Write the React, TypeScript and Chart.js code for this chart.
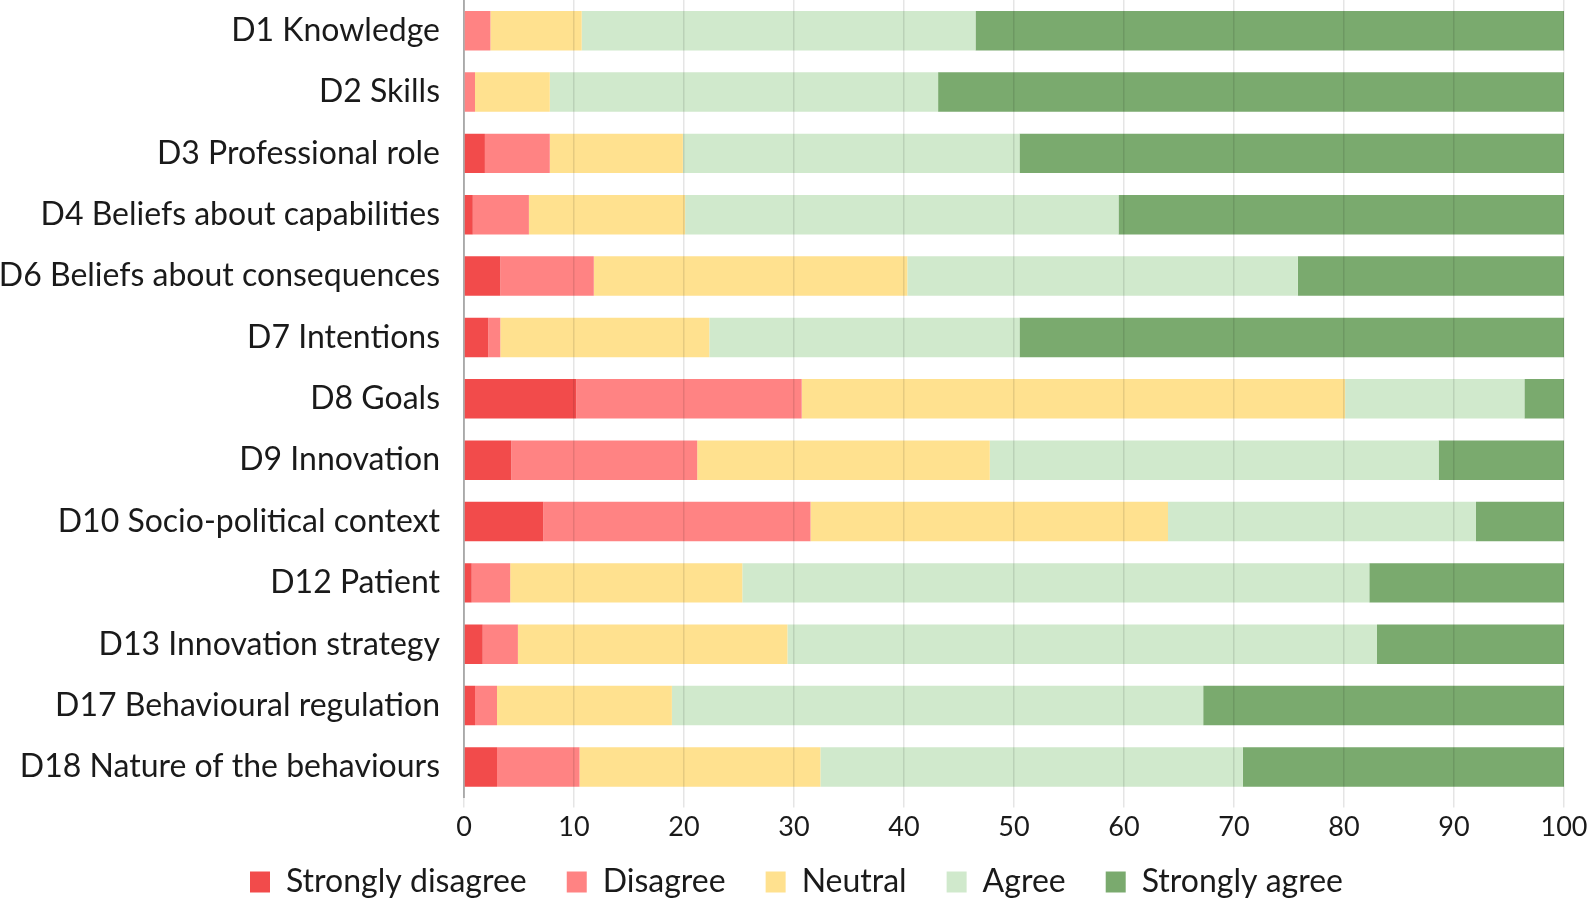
import React, { useEffect, useRef } from "react";
import { Chart, registerables } from "chart.js";

Chart.register(...registerables);

const categories = [
  "D1 Knowledge",
  "D2 Skills",
  "D3 Professional role",
  "D4 Beliefs about capabilities",
  "D6 Beliefs about consequences",
  "D7 Intentions",
  "D8 Goals",
  "D9 Innovation",
  "D10 Socio-political context",
  "D12 Patient",
  "D13 Innovation strategy",
  "D17 Behavioural regulation",
  "D18 Nature of the behaviours",
];

const stronglyDisagree = [0, 0, 1.9, 0.8, 3.3, 2.2, 10.2, 4.3, 7.2, 0.7, 1.7, 1.0, 3.0];
const disagree = [2.4, 1.0, 5.9, 5.1, 8.5, 1.1, 20.5, 16.9, 24.3, 3.5, 3.2, 2.0, 7.5];
const neutral = [8.3, 6.8, 12.1, 14.2, 28.5, 19.0, 49.4, 26.6, 32.5, 21.1, 24.5, 15.9, 21.9];
const agree = [35.8, 35.3, 30.6, 39.4, 35.5, 28.2, 16.3, 40.8, 28.0, 57.0, 53.6, 48.3, 38.4];
const stronglyAgree = [53.5, 56.9, 49.5, 40.5, 24.2, 49.5, 3.6, 11.4, 8.0, 17.7, 17.0, 32.8, 29.2];

const seriesNames = ["Strongly disagree", "Disagree", "Neutral", "Agree", "Strongly agree"];
const seriesColors = ["#F24B4B", "#FF8383", "#FFE18F", "#D0E9CC", "#7AAA6E"];
const xTicks = [0, 10, 20, 30, 40, 50, 60, 70, 80, 90, 100];

const LEGEND_SHIFT = 20;

export default function App() {
  const ref = useRef<HTMLCanvasElement | null>(null);

  useEffect(() => {
    if (!ref.current) return;
    const values = [stronglyDisagree, disagree, neutral, agree, stronglyAgree];
    const family = "Lato, 'Open Sans', sans-serif";
    const labelFont = { family, size: 32 };
    const tickFont = { family, size: 27 };
    const legendShift = {
      id: "legendShift",
      afterLayout(chart: any) {
        if (chart.legend) {
          chart.legend.top -= LEGEND_SHIFT;
          chart.legend.bottom -= LEGEND_SHIFT;
        }
      },
    };
    const chart = new Chart(ref.current, {
      type: "bar",
      data: {
        labels: categories,
        datasets: values.map((v, i) => ({
          label: seriesNames[i],
          data: v,
          backgroundColor: seriesColors[i],
          borderWidth: 0,
          barPercentage: 0.643,
          categoryPercentage: 1,
        })),
      },
      plugins: [legendShift],
      options: {
        indexAxis: "y",
        responsive: false,
        animation: false,
        maintainAspectRatio: false,
        layout: { padding: { left: 0, right: 0, top: 0, bottom: -26 } },
        scales: {
          x: {
            stacked: true,
            min: 0,
            max: 100,
            afterBuildTicks: (axis: any) => {
              axis.ticks = xTicks.map((v) => ({ value: v }));
            },
            afterFit: (scale: any) => {
              scale.paddingLeft = 0;
              scale.paddingRight = 29;
            },
            ticks: { font: tickFont, color: "#1a1a1a", padding: 3 },
            grid: { color: "rgba(0,0,0,0.10)", lineWidth: 1.5, z: 1, tickLength: 10 },
            border: { display: false },
          },
          y: {
            stacked: true,
            afterFit: (scale: any) => {
              scale.width = 464;
              scale.paddingTop = 0;
              scale.paddingBottom = 0;
            },
            ticks: { font: labelFont, color: "#1a1a1a", padding: 16 },
            grid: { display: false },
            border: { display: true, color: "#bdbdbd", width: 2 },
          },
        },
        plugins: {
          legend: {
            position: "bottom",
            labels: {
              font: labelFont,
              color: "#1a1a1a",
              boxWidth: 20,
              boxHeight: 21,
              padding: 40,
            },
          },
          tooltip: { enabled: false },
        },
      },
    });
    return () => chart.destroy();
  }, []);

  return (
    <div style={{ position: "fixed", left: 0, top: 0, width: 1593, height: 902, background: "#fff" }}>
      <canvas ref={ref} width={1593} height={902} style={{ display: "block" }} />
    </div>
  );
}
